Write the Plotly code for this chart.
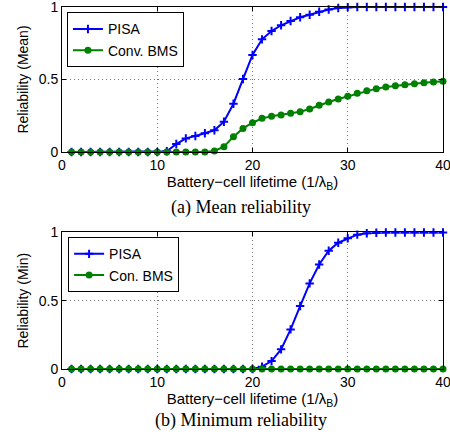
import plotly.graph_objects as go

x = list(range(1, 41))

pisa_mean = [0]*10 + [0.005, 0.055, 0.094, 0.11, 0.129, 0.15, 0.209, 0.333, 0.503, 0.669,
                      0.777, 0.834, 0.874, 0.903, 0.929, 0.947, 0.967, 0.983, 0.993, 0.998,
                      1.0, 1.0, 1.0, 1.0, 1.0, 1.0, 1.0, 1.0, 1.0, 1.0]
bms_mean = [0]*15 + [0.007, 0.037, 0.106, 0.163, 0.202, 0.232, 0.246, 0.255, 0.267, 0.278,
                     0.297, 0.322, 0.345, 0.366, 0.384, 0.405, 0.423, 0.437, 0.448, 0.457,
                     0.464, 0.471, 0.478, 0.483, 0.488]
pisa_min = [0]*20 + [0.017, 0.058, 0.144, 0.29, 0.461, 0.627, 0.766, 0.866, 0.925, 0.957,
                     0.984, 0.994, 0.998, 1.0, 1.0, 1.0, 1.0, 1.0, 1.0, 1.0]
bms_min = [0]*40

x_ticks = [0, 10, 20, 30, 40]
y_ticks = [0, 0.5, 1]
y_tick_labels = ["0", "0.5", "1"]

BLUE = "#0000ff"
GREEN = "#008000"
FONT = "Liberation Sans, Arial, sans-serif"

fig = go.Figure()

def add_pair(pisa, bms, bms_name, xa, ya, leg):
    fig.add_trace(go.Scatter(x=x, y=pisa, name="PISA", mode="lines+markers",
                             line=dict(color=BLUE, width=2),
                             marker=dict(symbol="cross-thin", size=6, line=dict(color=BLUE, width=2)),
                             xaxis=xa, yaxis=ya, legend=leg, cliponaxis=False))
    fig.add_trace(go.Scatter(x=x, y=bms, name=bms_name, mode="lines+markers",
                             line=dict(color=GREEN, width=2),
                             marker=dict(symbol="circle", size=7, color=GREEN),
                             xaxis=xa, yaxis=ya, legend=leg, cliponaxis=False))

add_pair(pisa_mean, bms_mean, "Conv. BMS", "x", "y", "legend")
add_pair(pisa_min, bms_min, "Con. BMS", "x2", "y2", "legend2")

xtitle = "Battery\u2212cell lifetime (1/\u03bb<sub>B</sub>)"

def xaxis(anchor):
    return dict(range=[0, 40], tickvals=x_ticks, ticktext=[str(t) for t in x_ticks],
                showline=True, linecolor="black", linewidth=1, mirror="ticks",
                ticks="inside", ticklen=4, tickcolor="black",
                showgrid=True, gridcolor="#777777", griddash="1px,3px", gridwidth=1,
                zeroline=False, anchor=anchor, automargin=False, ticklabeloverflow="allow",
                tickfont=dict(family=FONT, size=14, color="black"),
                title=dict(text=xtitle, font=dict(family=FONT, size=15, color="black"), standoff=0))

def yaxis(domain, title, anchor):
    return dict(range=[0, 1], domain=domain, tickvals=y_ticks, ticktext=y_tick_labels,
                showline=True, linecolor="black", linewidth=1, mirror="ticks",
                ticks="inside", ticklen=4, tickcolor="black",
                showgrid=True, gridcolor="#777777", griddash="1px,3px", gridwidth=1,
                zeroline=False, anchor=anchor, automargin=False, ticklabeloverflow="allow",
                tickfont=dict(family=FONT, size=14, color="black"),
                title=dict(text=title, font=dict(family=FONT, size=14, color="black"), standoff=6))

legend_common = dict(bgcolor="white", bordercolor="black", borderwidth=1,
                     font=dict(family=FONT, size=14, color="black"),
                     xanchor="left", yanchor="top", tracegroupgap=0,
                     itemwidth=30)

fig.update_layout(
    width=450, height=437,
    margin=dict(l=62, r=7, t=7, b=68, autoexpand=False),
    paper_bgcolor="white", plot_bgcolor="white",
    xaxis=xaxis("y"),
    yaxis=yaxis([0.5994, 1.0], "Reliability (Mean)", "x"),
    xaxis2=xaxis("y2"),
    yaxis2=yaxis([0.0, 0.3771], "Reliability (Min)", "x2"),
    legend=dict(x=0.013, y=0.985, **legend_common),
    legend2=dict(x=0.016, y=0.364, **legend_common),
    annotations=[
        dict(text="(a) Mean reliability", x=0.471, y=0.4448, xref="paper", yref="paper",
             xanchor="center", yanchor="middle", showarrow=False,
             font=dict(family="Liberation Serif, Times New Roman, serif", size=18, color="black")),
        dict(text="(b) Minimum reliability", x=0.471, y=-0.1436, xref="paper", yref="paper",
             xanchor="center", yanchor="middle", showarrow=False,
             font=dict(family="Liberation Serif, Times New Roman, serif", size=18, color="black")),
    ],
)

# remove the browser's default body margin so the figure starts at the page corner
fig.write_html("out.html", config={"displayModeBar": False},
               post_script="document.body.style.margin='0';")
